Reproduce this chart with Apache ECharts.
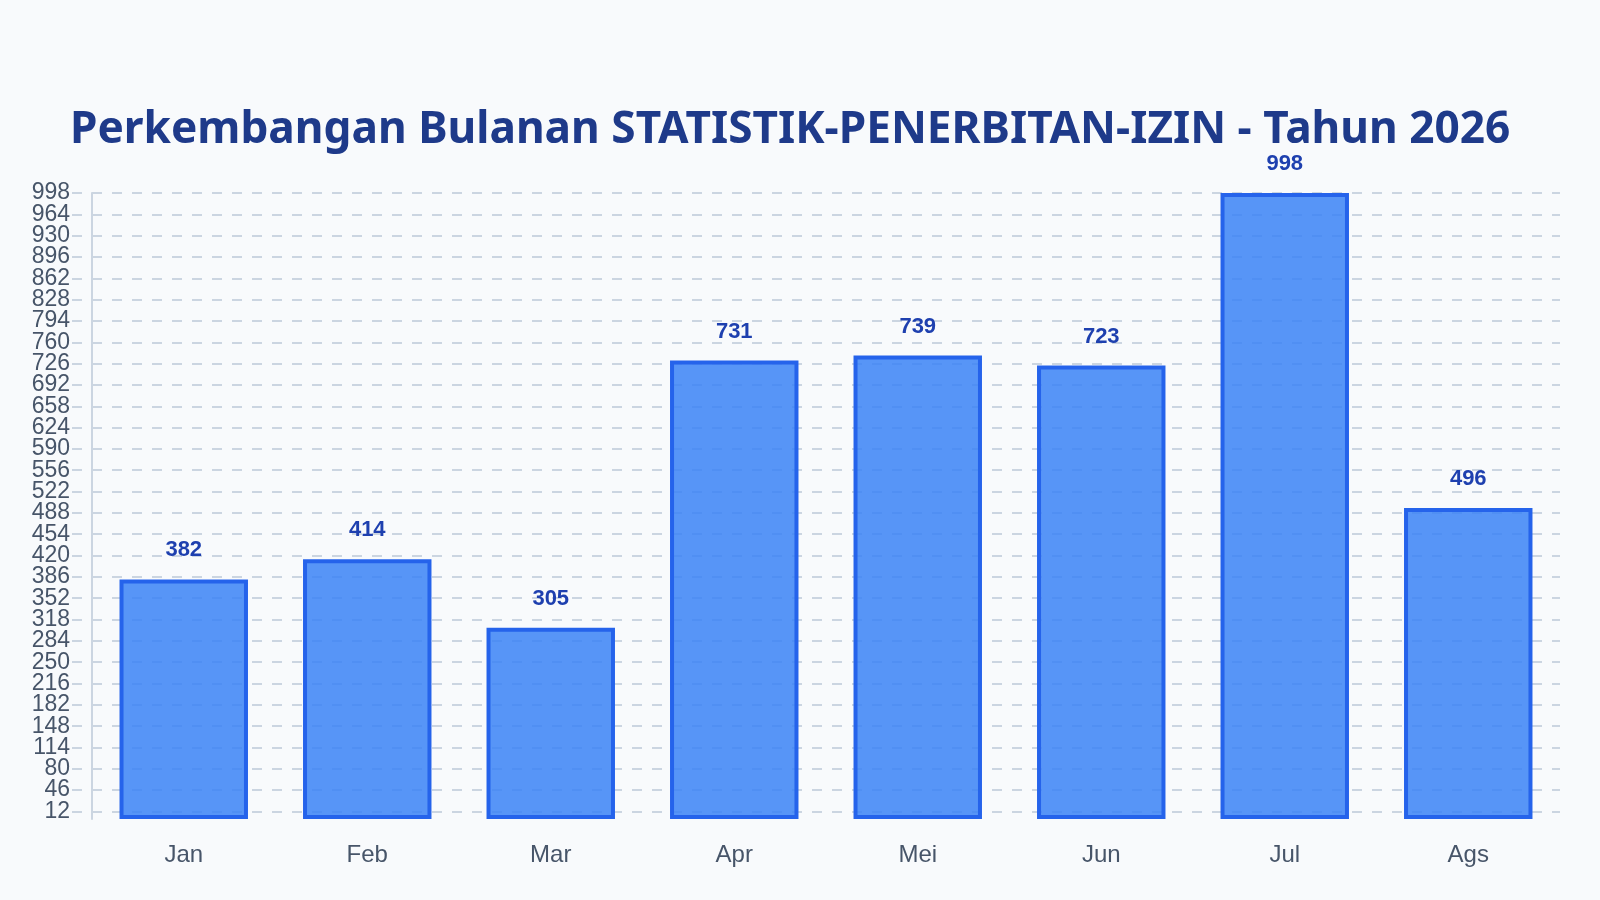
<!DOCTYPE html>
<html>
<head>
<meta charset="utf-8">
<title>Perkembangan Bulanan</title>
<script src="https://cdn.jsdelivr.net/npm/echarts@6/dist/echarts.min.js"></script>
<style>
    html, body { margin: 0; padding: 0; background: #f8fafc; }
    #main { width: 1600px; height: 900px; }
</style>
</head>
<body>
<div id="main"></div>
<script>
// data
var months = ['Jan', 'Feb', 'Mar', 'Apr', 'Mei', 'Jun', 'Jul', 'Ags'];
var jumlahIzin = [382, 414, 305, 731, 739, 723, 998, 496];
var yTicks = [12, 46, 80, 114, 148, 182, 216, 250, 284, 318, 352, 386, 420, 454, 488,
    522, 556, 590, 624, 658, 692, 726, 760, 794, 828, 862, 896, 930, 964, 998];
var yMax = 998;

// labels sit so close that echarts drops neighbours of min/max,
// so they are split over two stacked axes (even / odd)
var yTicksEven = yTicks.filter(function (v, i) { return i % 2 === 0; });
var yTicksOdd = yTicks.filter(function (v, i) { return i % 2 === 1; });

var labelStyle = {
    margin: 22,
    showMinLabel: true,
    showMaxLabel: true,
    fontFamily: 'Liberation Sans',
    fontSize: 23,
    color: '#475569'
};

var myChart = echarts.init(document.getElementById('main'));

myChart.setOption({
    backgroundColor: '#f8fafc',
    animation: false,
    title: {
        text: 'Perkembangan Bulanan STATISTIK-PENERBITAN-IZIN - Tahun 2026',
        left: 65,
        top: 103,
        textStyle: {
            fontFamily: 'Noto Sans',
            fontSize: 44.2,
            fontWeight: 'bold',
            color: '#1e3a8a'
        }
    },
    grid: {
        left: 92,
        right: 40,
        top: 193,
        bottom: 81
    },
    xAxis: {
        type: 'category',
        data: months,
        axisLine: { show: false },
        axisTick: { show: false },
        axisLabel: {
            margin: 24,
            fontFamily: 'Liberation Sans',
            fontSize: 24,
            color: '#475569'
        }
    },
    yAxis: [{
        type: 'value',
        position: 'left',
        min: 0,
        max: yMax,
        axisLine: {
            show: true,
            lineStyle: { color: '#cbd5e1', width: 2 }
        },
        axisTick: {
            show: true,
            length: 20,
            customValues: yTicks,
            lineStyle: { color: '#cbd5e1', width: 2, type: [10, 10], dashOffset: 10 }
        },
        axisLabel: echarts.util.extend({ customValues: yTicksEven }, labelStyle),
        splitLine: {
            show: true,
            lineStyle: { color: '#cbd5e1', width: 2, type: [10, 10] }
        }
    }, {
        type: 'value',
        position: 'left',
        offset: 0,
        min: 0,
        max: yMax,
        axisLine: { show: false },
        axisTick: { show: false, customValues: yTicksOdd },
        axisLabel: echarts.util.extend({ customValues: yTicksOdd }, labelStyle),
        splitLine: { show: false }
    }],
    series: [{
        type: 'bar',
        yAxisIndex: 0,
        data: jumlahIzin,
        barWidth: '70%',
        itemStyle: {
            color: 'rgba(59,130,246,0.85)',
            borderColor: '#2563eb',
            borderWidth: 4
        },
        label: {
            show: true,
            position: 'top',
            distance: 18,
            fontFamily: 'Liberation Sans',
            fontSize: 22,
            fontWeight: 'bold',
            color: '#1e40af'
        }
    }]
});
</script>
</body>
</html>
